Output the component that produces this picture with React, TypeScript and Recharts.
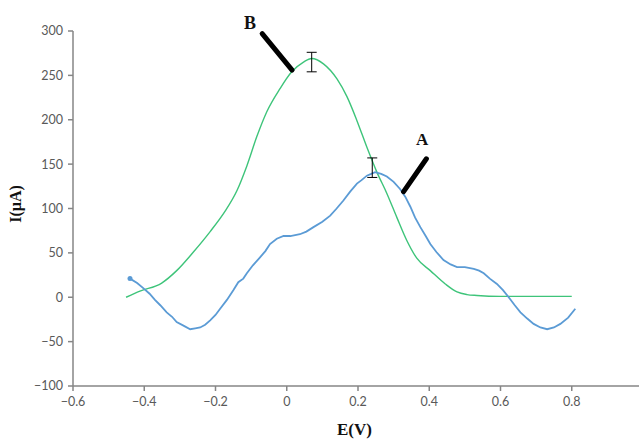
import React from "react";
import {
  ComposedChart,
  Line,
  Scatter,
  ErrorBar,
  XAxis,
  YAxis,
  ReferenceLine,
} from "recharts";

// curve B (green)
const curveBX = [
  -0.451, -0.412, -0.351, -0.309, -0.262, -0.215, -0.173, -0.14, -0.112, -0.084,
  -0.056, -0.019, 0.014, 0.047, 0.07, 0.103, 0.141, 0.169, 0.197, 0.225, 0.253,
  0.281, 0.309, 0.337, 0.365, 0.403, 0.445, 0.478, 0.506, 0.534, 0.6, 0.7, 0.8,
];
const curveBY = [
  0, 7, 16, 30, 51, 74, 97, 120, 148, 181, 209, 235, 254, 265, 269, 263, 246, 226,
  199, 169, 141, 117, 90, 64, 44, 30, 15, 6, 3, 2, 1, 1, 1,
];

// curve A (blue)
const curveAX = [
  -0.44, -0.42, -0.402, -0.385, -0.37, -0.355, -0.337, -0.322, -0.309, -0.29,
  -0.271, -0.257, -0.243, -0.229, -0.215, -0.2, -0.187, -0.168, -0.15, -0.136,
  -0.122, -0.112, -0.095, -0.075, -0.06, -0.047, -0.028, -0.009, 0.01, 0.037,
  0.055, 0.075, 0.1, 0.122, 0.14, 0.159, 0.178, 0.197, 0.21, 0.225, 0.237, 0.248,
  0.265, 0.281, 0.3, 0.318, 0.333, 0.347, 0.36, 0.375, 0.39, 0.403, 0.42, 0.44,
  0.46, 0.478, 0.5, 0.525, 0.54, 0.553, 0.57, 0.59, 0.607, 0.623, 0.64, 0.656,
  0.675, 0.693, 0.712, 0.731, 0.75, 0.768, 0.79, 0.81,
];
const curveAY = [
  21, 16, 10, 4, -3, -9, -17, -22, -28, -32, -36, -35, -34, -31, -26, -20, -13,
  -3, 8, 17, 21, 27, 36, 45, 52, 60, 66, 69, 69, 71, 74, 79, 85, 92, 100, 109, 119,
  128, 132, 137, 139, 141, 139, 136, 130, 122, 113, 102, 90, 79, 69, 60, 51, 42,
  37, 34, 34, 32, 30, 27, 21, 15, 8, 0, -9, -17, -24, -30, -34, -36, -34, -30,
  -23, -13,
];

// peak currents with their error bars
const peakX = [0.07, 0.24];
const peakY = [265, 146];
const peakErr = [11, 11];

const xTicks = [-0.6, -0.4, -0.2, 0, 0.2, 0.4, 0.6, 0.8, 1];
const yTicks = [-100, -50, 0, 50, 100, 150, 200, 250, 300];

const curveB = curveBX.map((x, i) => ({ x, y: curveBY[i] }));
const curveA = curveAX.map((x, i) => ({ x, y: curveAY[i] }));
const peaks = peakX.map((x, i) => ({ x, y: peakY[i], err: peakErr[i] }));

const fmt = (v: number) => String(Math.round(v * 10) / 10).replace("-", "\u2212");
// the "1" tick sits on the picture's right edge, so only its mark is kept
const fmtX = (v: number) => (v >= 1 ? "" : fmt(v));

const tickStyle = { fontSize: 12.5, fill: "#595959", fontFamily: "Lato, sans-serif" };
const axisStroke = { stroke: "#868686", strokeWidth: 1.5 };
const serifBold: React.CSSProperties = {
  position: "absolute",
  fontFamily: "'Liberation Serif', 'Times New Roman', serif",
  fontWeight: "bold",
  color: "#111",
  lineHeight: 1,
  whiteSpace: "nowrap",
};

export default function App() {
  return (
    <div
      style={{
        position: "absolute",
        left: 0,
        top: 0,
        width: 639,
        height: 439,
        overflow: "hidden",
        background: "#fff",
      }}
    >
      <ComposedChart
        width={660}
        height={439}
        margin={{ top: 31, right: 17, left: 0, bottom: 0 }}
      >
        <XAxis
          type="number"
          dataKey="x"
          domain={[-0.6, 1]}
          ticks={xTicks}
          tickFormatter={fmtX}
          tick={tickStyle}
          tickSize={5}
          tickMargin={6}
          axisLine={axisStroke}
          tickLine={axisStroke}
          height={53}
          interval={0}
          allowDataOverflow
        />
        <YAxis
          type="number"
          dataKey="y"
          domain={[-100, 300]}
          ticks={yTicks}
          tickFormatter={fmt}
          tick={tickStyle}
          tickSize={5}
          tickMargin={5}
          axisLine={axisStroke}
          tickLine={axisStroke}
          width={73}
          interval={0}
        />
        <Line
          data={curveB}
          dataKey="y"
          type="monotone"
          stroke="#3ec47a"
          strokeWidth={1.4}
          dot={false}
          isAnimationActive={false}
        />
        <Line
          data={curveA}
          dataKey="y"
          type="linear"
          stroke="#5b9bd5"
          strokeWidth={1.8}
          dot={(p: any) =>
            p.index === 0 ? (
              <circle key="d0" cx={p.cx} cy={p.cy} r={2.5} fill="#5b9bd5" />
            ) : (
              <g key={"d" + p.index} />
            )
          }
          isAnimationActive={false}
        />
        <Scatter data={peaks} dataKey="y" shape={() => <g />} isAnimationActive={false}>
          <ErrorBar dataKey="err" direction="y" width={5} stroke="#000" strokeWidth={1} />
        </Scatter>
        <ReferenceLine
          segment={[
            { x: -0.069, y: 297 },
            { x: 0.015, y: 256 },
          ]}
          stroke="#000"
          strokeWidth={5}
          strokeLinecap="round"
          ifOverflow="visible"
        />
        <ReferenceLine
          segment={[
            { x: 0.392, y: 156 },
            { x: 0.328, y: 119 },
          ]}
          stroke="#000"
          strokeWidth={5}
          strokeLinecap="round"
          ifOverflow="visible"
        />
      </ComposedChart>
      <div style={{ ...serifBold, left: 244, top: 14, fontSize: 18 }}>B</div>
      <div style={{ ...serifBold, left: 416, top: 131, fontSize: 17 }}>A</div>
      <div style={{ ...serifBold, left: 337, top: 421, fontSize: 17 }}>E(V)</div>
      <div
        style={{
          ...serifBold,
          left: 16,
          top: 204,
          fontSize: 16,
          transform: "translate(-50%, -50%) rotate(-90deg)",
        }}
      >
        I(µA)
      </div>
    </div>
  );
}
